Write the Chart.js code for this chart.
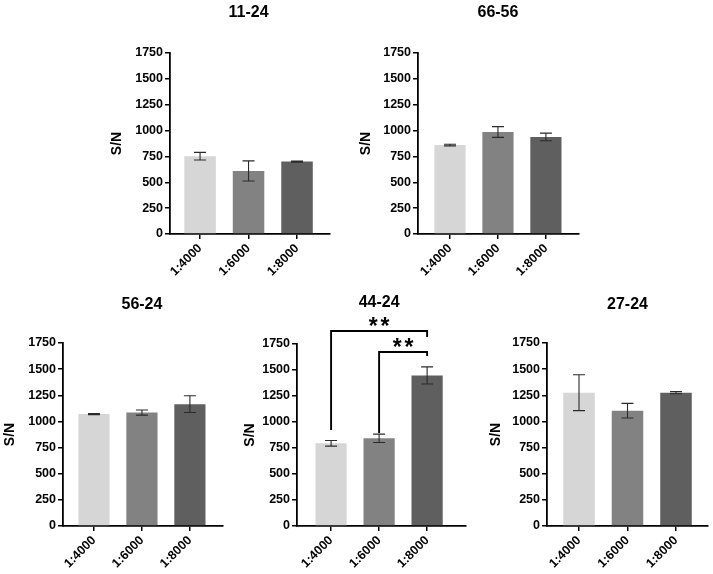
<!DOCTYPE html>
<html><head><meta charset="utf-8">
<script src="https://cdn.jsdelivr.net/npm/chart.js@4"></script>
<style>
html,body{margin:0;padding:0;background:#fff;}
body{width:713px;height:574px;position:relative;overflow:hidden;}
canvas{position:absolute;}
</style></head><body>
<script>
// ---- data ----
const dilutions = ['1:4000', '1:6000', '1:8000'];
const panelNames = ['11-24', '66-56', '56-24', '44-24', '27-24'];
const values_11_24 = [752, 610, 700];
const errors_11_24 = [37, 97, 5];
const values_66_56 = [860, 986, 938];
const errors_66_56 = [8, 52, 37];
const values_56_24 = [1070, 1085, 1165];
const errors_56_24 = [5, 25, 80];
const values_44_24 = [795, 843, 1448];
const errors_44_24 = [27, 40, 82];
const values_27_24 = [1275, 1103, 1275];
const errors_27_24 = [172, 70, 10];
const yTickValues = [0, 250, 500, 750, 1000, 1250, 1500, 1750];
const yAxisTitle = 'S/N';
// significance brackets on 44-24 (category index from/to, values on S/N scale)
const sigFrom = [0, 1];
const sigTo = [2, 2];
const sigTop = [1875, 1673];
const sigLeftEnd = [923, 894];
const sigRightEnd = [1817, 1635];
const sigLabel = ['**', '**'];
const sigLabelY = [1985, 1780];

const allValues = [values_11_24, values_66_56, values_56_24, values_44_24, values_27_24];
const allErrors = [errors_11_24, errors_66_56, errors_56_24, errors_44_24, errors_27_24];

// ---- styles / layout ----
const barColors = ['#d6d6d6', '#828282', '#5f5f5f'];
const FONT = "'Liberation Sans', Arial, Helvetica, sans-serif";
const layoutBoxes = [
  {axisLeft:170, axisRight:330, plotTop:53,  plotBottom:234, xMin:0.38,  xMax:3.68, titleGap:40, ytPad:10.6},
  {axisLeft:418, axisRight:579, plotTop:53,  plotBottom:234, xMin:0.333, xMax:3.69, titleGap:40, ytPad:11.6},
  {axisLeft:63,  axisRight:223, plotTop:343, plotBottom:526, xMin:0.354, xMax:3.69, titleGap:38, ytPad:10.6},
  {axisLeft:297, axisRight:466, plotTop:344, plotBottom:526, xMin:0.29,  xMax:3.81, titleGap:41, ytPad:16.6},
  {axisLeft:547, axisRight:708, plotTop:343, plotBottom:526, xMin:0.34,  xMax:3.66, titleGap:38, ytPad:12.6}
];
const Y_AXIS_W = 72, TOP_PAD = 60, RIGHT_PAD = 5, X_AXIS_H = 58;

const errorBarPlugin = {
  id: 'errorBars',
  afterDatasetsDraw(chart, args, opts) {
    const ctx = chart.ctx, y = chart.scales.y;
    const meta = chart.getDatasetMeta(0);
    ctx.save();
    ctx.strokeStyle = '#2a2a2a';
    ctx.lineWidth = 1.1;
    opts.values.forEach((v, j) => {
      const x = meta.data[j].x;
      const yt = y.getPixelForValue(v + opts.errors[j]);
      const yb = y.getPixelForValue(v - opts.errors[j]);
      ctx.beginPath();
      ctx.moveTo(x, yt); ctx.lineTo(x, yb);
      ctx.moveTo(x - 6, yt); ctx.lineTo(x + 6, yt);
      ctx.moveTo(x - 6, yb); ctx.lineTo(x + 6, yb);
      ctx.stroke();
    });
    ctx.restore();
  }
};

const panelTitlePlugin = {
  id: 'panelTitle',
  afterDraw(chart, args, opts) {
    const ctx = chart.ctx;
    ctx.save();
    ctx.font = 'bold 16px ' + FONT;
    ctx.fillStyle = '#000';
    ctx.textAlign = 'center';
    ctx.textBaseline = 'middle';
    ctx.fillText(opts.text, chart.scales.x.getPixelForValue(2), chart.chartArea.top - opts.gap);
    ctx.restore();
  }
};

const sigPlugin = {
  id: 'sigBrackets',
  afterDraw(chart, args, opts) {
    if (!opts.show) return;
    const ctx = chart.ctx, x = chart.scales.x, y = chart.scales.y;
    ctx.save();
    ctx.strokeStyle = '#000';
    ctx.lineWidth = 1.9;
    ctx.fillStyle = '#000';
    ctx.font = 'bold 23px ' + FONT;
    if ('letterSpacing' in ctx) ctx.letterSpacing = '3px';
    ctx.textAlign = 'center';
    ctx.textBaseline = 'alphabetic';
    sigFrom.forEach((f, k) => {
      const x1 = x.getPixelForValue(f + 1), x2 = x.getPixelForValue(sigTo[k] + 1);
      const yTop = y.getPixelForValue(sigTop[k]);
      ctx.beginPath();
      ctx.moveTo(x1, y.getPixelForValue(sigLeftEnd[k]));
      ctx.lineTo(x1, yTop);
      ctx.lineTo(x2, yTop);
      ctx.lineTo(x2, y.getPixelForValue(sigRightEnd[k]));
      ctx.stroke();
      ctx.fillText(sigLabel[k], (x1 + x2) / 2 + 1.5, y.getPixelForValue(sigLabelY[k]) + 14);
    });
    ctx.restore();
  }
};

function makePanel(i) {
  const L = layoutBoxes[i];
  const cLeft = L.axisLeft - Y_AXIS_W;
  const cTop = L.plotTop - TOP_PAD;
  const W = L.axisRight - cLeft + RIGHT_PAD;
  const H = L.plotBottom - cTop + X_AXIS_H;
  const cv = document.createElement('canvas');
  cv.width = W; cv.height = H;
  cv.style.left = cLeft + 'px'; cv.style.top = cTop + 'px';
  cv.style.width = W + 'px'; cv.style.height = H + 'px';
  document.body.appendChild(cv);
  const vals = allValues[i], errs = allErrors[i];
  new Chart(cv, {
    type: 'bar',
    data: {
      datasets: [{
        data: vals.map((v, j) => ({x: j + 1, y: v})),
        backgroundColor: barColors,
        borderWidth: 0,
        barPercentage: 0.65,
        categoryPercentage: 1
      }]
    },
    options: {
      responsive: false,
      animation: false,
      devicePixelRatio: 1,
      layout: {padding: {left: 0, right: RIGHT_PAD, top: TOP_PAD, bottom: 0}},
      plugins: {
        legend: {display: false},
        tooltip: {enabled: false},
        errorBars: {values: vals, errors: errs},
        panelTitle: {text: panelNames[i], gap: L.titleGap},
        sigBrackets: {show: i === 3}
      },
      scales: {
        x: {
          type: 'linear',
          offset: false,
          min: L.xMin, max: L.xMax,
          afterBuildTicks: s => { s.ticks = [1, 2, 3].map(v => ({value: v})); },
          afterFit: s => { s.height = X_AXIS_H; },
          ticks: {
            callback: v => dilutions[v - 1],
            minRotation: 45, maxRotation: 45, autoSkip: false,
            color: '#000', padding: 2,
            font: {family: FONT, size: 12.5, weight: 'bold'}
          },
          grid: {display: true, offset: false, drawOnChartArea: false, drawTicks: true, tickLength: 5, color: '#000', lineWidth: 1.5},
          border: {display: true, color: '#000', width: 1.8}
        },
        y: {
          min: 0, max: 1750,
          afterBuildTicks: s => { s.ticks = yTickValues.map(v => ({value: v})); },
          afterFit: s => { s.width = Y_AXIS_W; },
          ticks: {color: '#000', padding: 2, callback: v => String(v),
                  font: {family: FONT, size: 12.5, weight: 'bold'}},
          title: {display: true, text: yAxisTitle, color: '#000', padding: {top: L.ytPad, bottom: 0},
                  font: {family: FONT, size: 14, weight: 'bold'}},
          grid: {display: true, drawOnChartArea: false, drawTicks: true, tickLength: 5, color: '#000', lineWidth: 1.5},
          border: {display: true, color: '#000', width: 1.8}
        }
      }
    },
    plugins: [errorBarPlugin, panelTitlePlugin, sigPlugin]
  });
}
for (let i = 0; i < 5; i++) makePanel(i);
</script>
</body></html>
